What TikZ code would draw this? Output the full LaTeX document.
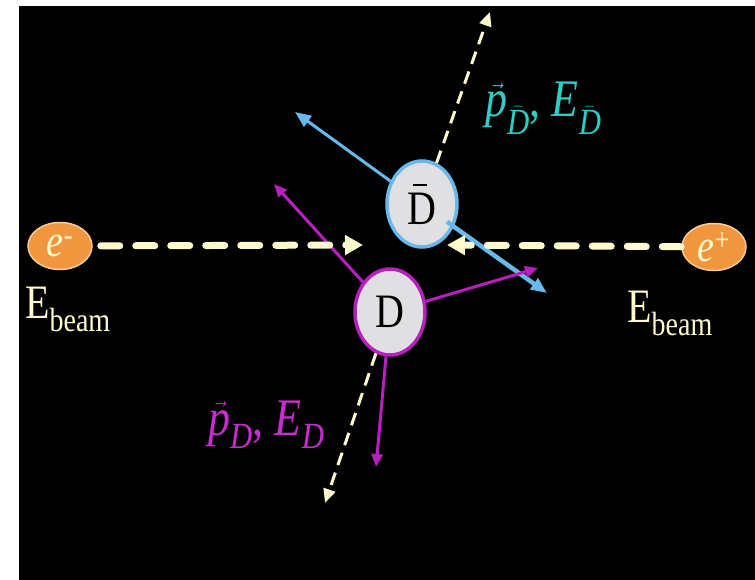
\documentclass[tikz,border=0pt]{standalone}
\usepackage{fontspec}
\usepackage{amsmath}
\usepackage{graphicx}
\setmainfont{Liberation Serif}
\usetikzlibrary{arrows.meta, shapes.geometric, calc}

\definecolor{cream}{RGB}{255,250,205}
\definecolor{leptonorange}{RGB}{240,150,62}
\definecolor{leptonedge}{RGB}{250,205,150}
\definecolor{mesongray}{RGB}{224,224,226}
\definecolor{dbarblue}{RGB}{105,184,234}
\definecolor{dmagenta}{RGB}{185,30,190}
\definecolor{dlabel}{RGB}{200,45,205}
\definecolor{dbarlabel}{RGB}{45,205,200}

\newcommand{\vstretch}[1]{\scalebox{1}[1.2]{#1}}
\newcommand{\antiD}{\makebox[0pt][l]{\hspace{0.13em}\rule[0.8em]{0.36em}{0.05em}}D}

\begin{document}
\begin{tikzpicture}[
  x=1pt, y=-1pt,
  lepton/.style={ellipse, draw=leptonedge, line width=1.5pt, fill=leptonorange,
                 minimum width=64pt, minimum height=47pt, inner sep=0pt,
                 text=cream, font=\fontsize{38}{40}\selectfont},
  meson/.style={ellipse, line width=3.5pt, fill=mesongray, minimum width=70pt,
                minimum height=86pt, inner sep=0pt, text=black,
                font=\fontsize{40}{44}\selectfont},
  lbl/.style={inner sep=0pt, anchor=base west, font=\fontsize{44}{48}\selectfont},
  ebeam/.style={lbl, text=cream, font=\fontsize{40}{44}\selectfont},
  beam/.style={cream, line width=7pt, line cap=round, dash pattern=on 19pt off 16pt,
               -{Triangle[length=18pt, width=19pt]}},
  axis/.style={cream, line width=3pt, dash pattern=on 13pt off 8pt,
               -{Triangle[length=14pt, width=12pt]}},
  darr/.style={dmagenta, line width=3pt, -{Triangle[length=13pt, width=11pt]}},
  dbarr/.style={dbarblue, -{Triangle[length=16pt, width=13pt]}},
]
% background
\fill [white] (0,0) rectangle (755,580);
\fill [black] (19,6) rectangle (755,580);
% beams and mesons
\node (em)   [lepton] at (60,246) {\vstretch{\textit{e}\textsuperscript{-}}};
\node (ep)   [lepton] at (714,247) {\vstretch{\textit{e}\textsuperscript{+}}};
\node (Dbar) [meson, draw=dbarblue] at (422,204) {\vstretch{\antiD}};
\node (D)    [meson, draw=dmagenta] at (390,312) {\vstretch{D}};
% labels
\node (ebL) [ebeam] at (25,318) {\vstretch{$\text{E}_{\text{beam}}$}};
\node (ebR) [ebeam] at (627,322) {\vstretch{$\text{E}_{\text{beam}}$}};
\node (pDbar) [lbl, text=dbarlabel] at (485,117)
  {\vstretch{$\vec{\textit{p}}_{\bar{\textit{D}}}\text{, }\textit{E}_{\bar{\textit{D}}}$}};
\node (pD) [lbl, text=dlabel] at (208,435)
  {\vstretch{$\vec{\textit{p}}_{\textit{D}}\text{, }\textit{E}_{\textit{D}}$}};
% free ends
\coordinate (beamL)    at (363,245);
\coordinate (beamR)    at (447,245);
\coordinate (axisUp)   at (490,12);
\coordinate (axisDown) at (325,503);
\coordinate (dbarUL)   at (295,112);
\coordinate (dbarDR)   at (547,293);
\coordinate (dUL)      at (274,184);
\coordinate (dR)       at (538,268);
\coordinate (dDown)    at (376,467);
% flight axis
\draw [axis] (Dbar) -- (axisUp);
\draw [axis] (D) -- (axisDown);
% decay products
\draw [dbarr, line width=3pt] (Dbar) -- (dbarUL);
\draw [dbarr, line width=4.5pt] ($(Dbar)!0.2!(dbarDR)$) -- (dbarDR);
\foreach \t in {dUL,dR,dDown}
  \draw [darr] (D) -- (\t);
% colliding beams
\draw [beam, shorten <=8pt] (em) -- (beamL);
\draw [beam] (ep) -- (beamR);
\end{tikzpicture}
\end{document}
